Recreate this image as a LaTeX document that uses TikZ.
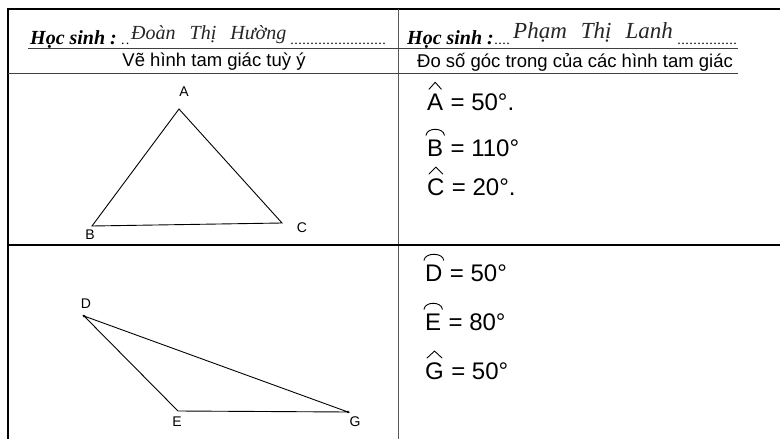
\documentclass[tikz,border=0pt]{standalone}
\usepackage{fontspec}
\setmainfont{Liberation Serif}
\newfontfamily\arialf{Liberation Sans}
\newcommand{\mydots}[1]{\hbox to #1{\xleaders\hbox to 4pt{\hss.\hss}\hfill}}
\begin{document}
\begin{tikzpicture}[x=1pt,y=-1pt,
  frame/.style={line width=2.2pt,black},
  thinrule/.style={line width=0.9pt,black!75},
  hdr/.style={inner sep=0pt,font=\fontsize{20}{22}\selectfont\bfseries\itshape},
  namet/.style={inner sep=0pt,anchor=base west,font=\fontsize{20}{22}\selectfont\itshape,black!85},
  dotsn/.style={inner sep=0pt,anchor=base west,font=\fontsize{14}{16}\selectfont},
  colhead/.style={inner sep=0pt,font=\arialf\fontsize{18.5}{20}\selectfont},
  side/.style={line width=0.9pt,black},
  vlabel/.style={inner sep=0pt,font=\arialf\fontsize{14}{16}\selectfont},
  angl/.style={inner sep=0pt,anchor=base west,font=\arialf\fontsize{24}{27}\selectfont},
  hatline/.style={line width=0.9pt,black,line cap=round,line join=round}]
\useasboundingbox (0,0) rectangle (780,439);
\fill[white] (0,0) rectangle (780,439);
% frame and grid
\draw[frame] (7,9) -- (780,9);
\draw[frame] (8,8) -- (8,439);
\draw[line width=0.8pt,black!65] (398,9) -- (398,439);
\draw[line width=2pt] (8,245) -- (780,245);
\draw[thinrule] (28,48.5) -- (738,48.5);
\draw[thinrule] (8,73.5) -- (738,73.5);
% header row
\node[hdr,anchor=base west] (h1) at (30,45) {Học sinh :};
\node[dotsn] (d1a) at (120,45) {\mydots{10pt}};
\node[namet] (n1) at (131,39) {Đoàn\hspace{14pt}Thị\hspace{14pt}Hường};
\node[dotsn] (d1b) at (290,45) {\mydots{96pt}};
\node[hdr,anchor=base west] (h2) at (407,45) {Học sinh :};
\node[dotsn] (d2a) at (494,45) {\mydots{16pt}};
\node[namet,font=\fontsize{23}{25}\selectfont\itshape] (n2) at (513,38) {Phạm\hspace{14pt}Thị\hspace{14pt}Lanh};
\node[dotsn] (d2b) at (677,45) {\mydots{60pt}};
\node[colhead] (c1) at (214,62) {Vẽ hình tam giác tuỳ ý};
\node[colhead] (c2) at (575,62) {Đo số góc trong của các hình tam giác};
% triangle ABC
\coordinate (A) at (179,109);
\coordinate (B) at (92,226);
\coordinate (C) at (282,223);
\draw[side] (A) -- (B) -- (C) -- cycle;
\node[vlabel] (lA) at (184,92) {A};
\node[vlabel] (lB) at (90,235) {B};
\node[vlabel] (lC) at (302,228) {C};
% triangle DEG
\coordinate (D) at (84,316);
\coordinate (E) at (178,411);
\coordinate (G) at (348,412);
\draw[side] (D) -- (E) -- (G) -- cycle;
\fill (D) circle (1.3pt);
\fill (G) circle (1.3pt);
\node[vlabel] (lD) at (86,304) {D};
\node[vlabel] (lE) at (177,422) {E};
\node[vlabel] (lG) at (355,422) {G};
% angle values
\node[angl] (kA) at (427,110) {A};
\node[angl] (vA) at ([xshift=7pt]kA.base east) {= 50°.};
\node[angl] (kB) at (427,156) {B};
\node[angl] (vB) at ([xshift=7pt]kB.base east) {= 110°};
\node[angl] (kC) at (427,195) {C};
\node[angl] (vC) at ([xshift=7pt]kC.base east) {= 20°.};
\node[angl] (kD) at (425,281) {D};
\node[angl] (vD) at ([xshift=7pt]kD.base east) {= 50°};
\node[angl] (kE) at (425,330) {E};
\node[angl] (vE) at ([xshift=7pt]kE.base east) {= 80°};
\node[angl] (kG) at (425,379) {G};
\node[angl] (vG) at ([xshift=7pt]kG.base east) {= 50°};
% hats
\draw[hatline] ([xshift=2pt,yshift=4pt]kA.north west) -- ([yshift=11pt]kA.north) -- ([xshift=-2pt,yshift=4pt]kA.north east);
\draw[hatline] ([xshift=-1pt,yshift=4pt]kB.north west) .. controls ([yshift=12pt]kB.north west) and ([yshift=12pt]kB.north east) .. ([xshift=1pt,yshift=4pt]kB.north east);
\draw[hatline] ([xshift=2pt,yshift=4pt]kC.north west) -- ([yshift=11pt]kC.north) -- ([xshift=-2pt,yshift=4pt]kC.north east);
\draw[hatline] ([xshift=-1pt,yshift=4pt]kD.north west) .. controls ([yshift=12pt]kD.north west) and ([yshift=12pt]kD.north east) .. ([xshift=1pt,yshift=4pt]kD.north east);
\draw[hatline] ([xshift=-1pt,yshift=4pt]kE.north west) .. controls ([yshift=12pt]kE.north west) and ([yshift=12pt]kE.north east) .. ([xshift=1pt,yshift=4pt]kE.north east);
\draw[hatline] ([xshift=2pt,yshift=4pt]kG.north west) -- ([yshift=11pt]kG.north) -- ([xshift=-2pt,yshift=4pt]kG.north east);
\end{tikzpicture}
\end{document}
